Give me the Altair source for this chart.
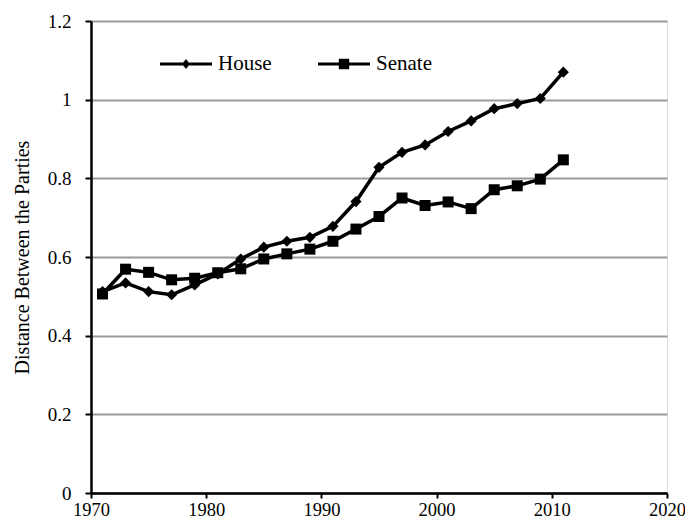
import altair as alt
import pandas as pd

years = [1971, 1973, 1975, 1977, 1979, 1981, 1983, 1985, 1987, 1989, 1991,
         1993, 1995, 1997, 1999, 2001, 2003, 2005, 2007, 2009, 2011]
house = [0.512, 0.534, 0.512, 0.504, 0.529, 0.557, 0.595, 0.625, 0.640, 0.650, 0.678,
         0.741, 0.828, 0.866, 0.885, 0.919, 0.946, 0.977, 0.990, 1.003, 1.070]
senate = [0.506, 0.569, 0.561, 0.542, 0.546, 0.560, 0.570, 0.595, 0.608, 0.620, 0.640,
          0.671, 0.703, 0.750, 0.731, 0.740, 0.723, 0.771, 0.781, 0.798, 0.847]
chambers = ["House", "Senate"]
x_ticks = [1970, 1980, 1990, 2000, 2010, 2020]
y_ticks = [0, 0.2, 0.4, 0.6, 0.8, 1.0, 1.2]

df = pd.DataFrame({
    "Year": years * 2,
    "Distance": house + senate,
    "Chamber": ["House"] * len(years) + ["Senate"] * len(years),
})

FONT = "'Liberation Serif', 'DejaVu Serif', serif"

x = alt.X("Year:Q",
          scale=alt.Scale(domain=[1970, 2020], nice=False, zero=False),
          axis=alt.Axis(values=x_ticks, format="d", title=None, grid=False,
                        domainColor="black", domainWidth=2.5,
                        tickColor="black", tickWidth=2, tickSize=5,
                        labelFont=FONT, labelFontSize=18.5, labelColor="black",
                        labelPadding=2, labelFlush=False))
y = alt.Y("Distance:Q",
          scale=alt.Scale(domain=[0, 1.2], nice=False),
          axis=alt.Axis(values=y_ticks, format=".1~f", title="Distance Between the Parties",
                        grid=True, gridColor="#9a9a9a", gridWidth=2,
                        domainColor="black", domainWidth=2.5,
                        tickColor="black", tickWidth=2, tickSize=6,
                        labelFont=FONT, labelFontSize=19, labelColor="black",
                        labelPadding=14,
                        titleFont=FONT, titleFontSize=20, titleFontWeight="normal",
                        titleColor="black", titlePadding=15))

base = alt.Chart(df)

lines = base.mark_line(color="black", strokeWidth=3.5).encode(
    x=x, y=y, detail="Chamber:N")

pts_house = base.transform_filter(alt.datum.Chamber == "House").mark_point(
    shape="diamond", size=125, filled=True, color="black", opacity=1).encode(x=x, y=y)

pts_senate = base.transform_filter(alt.datum.Chamber == "Senate").mark_point(
    shape="square", size=121, filled=True, color="black", opacity=1).encode(x=x, y=y)

house_sym = ("M-1,-0.058L1,-0.058L1,0.058L-1,0.058Z"
             "M0,-0.19L0.155,0L0,0.19L-0.155,0Z")
senate_sym = ("M-1,-0.058L1,-0.058L1,0.058L-1,0.058Z"
              "M-0.2,-0.2L0.2,-0.2L0.2,0.2L-0.2,0.2Z")

legend_layer = base.transform_filter("false").mark_point(
    filled=True, color="black", opacity=1).encode(
    x=x, y=y,
    shape=alt.Shape("Chamber:N",
                    scale=alt.Scale(domain=chambers, range=[house_sym, senate_sym]),
                    legend=alt.Legend(title=None, orient="none", direction="horizontal",
                                      legendX=69, legendY=17, padding=0,
                                      symbolSize=2704, symbolFillColor="black",
                                      symbolStrokeWidth=0, symbolOpacity=1,
                                      labelFont=FONT, labelFontSize=21,
                                      labelColor="black", labelOffset=6,
                                      columnPadding=46, labelLimit=200)))

chart = alt.layer(lines, pts_house, pts_senate, legend_layer).properties(
    width=576, height=472,
    autosize=alt.AutoSizeParams(type="none"),
    padding={"left": 83, "top": 13, "right": 18, "bottom": 28},
).configure_view(stroke="black", strokeWidth=2.5).configure(background="white")

chart.save("out.html", embed_options={"renderer": "svg", "actions": False})
